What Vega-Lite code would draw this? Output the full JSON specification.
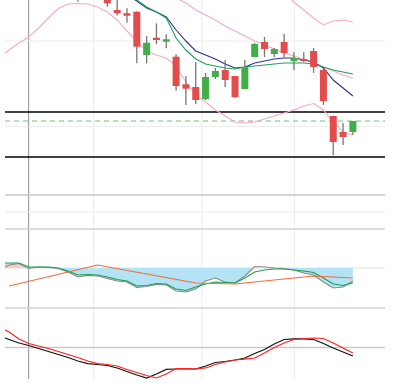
{
  "$schema": "https://vega.github.io/schema/vega-lite/v6.json",
  "width": 390,
  "height": 379,
  "padding": 0,
  "autosize": {"type": "none"},
  "background": "white",
  "config": {"view": {"stroke": null}},
  "datasets": {
    "candles": [
      {"t": 7, "open": 23.5, "high": 23.6, "low": 22.72, "close": 23.2},
      {"t": 10, "open": 23.1, "high": 23.2, "low": 22.23, "close": 22.57},
      {"t": 11, "open": 21.9, "high": 22.95, "low": 21.35, "close": 21.57},
      {"t": 12, "open": 21.57, "high": 22.07, "low": 20.63, "close": 21.33},
      {"t": 13, "open": 21.73, "high": 21.75, "low": 16.57, "close": 18.23},
      {"t": 14, "open": 17.4, "high": 19.3, "low": 16.57, "close": 18.63},
      {"t": 15, "open": 19.13, "high": 20.57, "low": 18.47, "close": 18.9},
      {"t": 16, "open": 18.73, "high": 19.47, "low": 18.07, "close": 18.97},
      {"t": 17, "open": 17.23, "high": 17.47, "low": 13.83, "close": 14.3},
      {"t": 18, "open": 14.47, "high": 15.3, "low": 12.4, "close": 14.03},
      {"t": 19, "open": 14.2, "high": 16.7, "low": 12.5, "close": 12.9},
      {"t": 20, "open": 13.0, "high": 15.6, "low": 12.9, "close": 15.2},
      {"t": 21, "open": 15.2, "high": 16.1, "low": 15.0, "close": 15.8},
      {"t": 22, "open": 15.9, "high": 16.9, "low": 14.2, "close": 14.9},
      {"t": 23, "open": 15.3, "high": 15.3, "low": 13.1, "close": 13.2},
      {"t": 24, "open": 14.0, "high": 16.9, "low": 14.0, "close": 16.2},
      {"t": 25, "open": 17.2, "high": 18.6, "low": 17.2, "close": 18.5},
      {"t": 26, "open": 18.7, "high": 19.2, "low": 17.2, "close": 18.0},
      {"t": 27, "open": 17.5, "high": 18.1, "low": 17.2, "close": 18.0},
      {"t": 28, "open": 18.7, "high": 19.5, "low": 17.2, "close": 17.6},
      {"t": 29, "open": 16.8, "high": 17.7, "low": 15.9, "close": 17.1},
      {"t": 30, "open": 17.0, "high": 17.7, "low": 16.7, "close": 16.8},
      {"t": 31, "open": 17.8, "high": 18.1, "low": 15.6, "close": 16.2},
      {"t": 32, "open": 15.9, "high": 16.0, "low": 12.4, "close": 12.8},
      {"t": 33, "open": 11.3, "high": 11.3, "low": 7.4, "close": 8.7},
      {"t": 34, "open": 9.7, "high": 10.6, "low": 8.4, "close": 9.2},
      {"t": 35, "open": 9.7, "high": 10.8, "low": 9.4, "close": 10.8}
    ],
    "main": [
      {"s": "lower", "t": -0.42, "v": 17.6}, {"s": "lower", "t": 0, "v": 17.9}, {"s": "lower", "t": 1, "v": 18.6},
      {"s": "lower", "t": 2, "v": 19.2}, {"s": "lower", "t": 3, "v": 20.1}, {"s": "lower", "t": 4, "v": 21.1},
      {"s": "lower", "t": 5, "v": 22.05}, {"s": "lower", "t": 6, "v": 22.5}, {"s": "lower", "t": 7, "v": 22.55},
      {"s": "lower", "t": 8, "v": 22.5}, {"s": "lower", "t": 9, "v": 22.2}, {"s": "lower", "t": 10, "v": 21.7},
      {"s": "lower", "t": 11, "v": 20.9}, {"s": "lower", "t": 12, "v": 19.8}, {"s": "lower", "t": 13, "v": 18.8},
      {"s": "lower", "t": 14, "v": 17.8}, {"s": "lower", "t": 15, "v": 17.4}, {"s": "lower", "t": 16, "v": 17.1},
      {"s": "lower", "t": 17, "v": 16.3}, {"s": "lower", "t": 18, "v": 14.7}, {"s": "lower", "t": 19, "v": 13.4},
      {"s": "lower", "t": 20, "v": 12.7}, {"s": "lower", "t": 21, "v": 11.9}, {"s": "lower", "t": 22, "v": 11.3},
      {"s": "lower", "t": 23, "v": 10.7}, {"s": "lower", "t": 24, "v": 10.6}, {"s": "lower", "t": 25, "v": 10.7},
      {"s": "lower", "t": 26, "v": 11.0}, {"s": "lower", "t": 27, "v": 11.3}, {"s": "lower", "t": 28, "v": 11.6},
      {"s": "lower", "t": 29, "v": 11.9}, {"s": "lower", "t": 30, "v": 12.3}, {"s": "lower", "t": 31, "v": 12.55},
      {"s": "lower", "t": 32, "v": 11.9}, {"s": "lower", "t": 33, "v": 10.7}, {"s": "lower", "t": 34, "v": 9.7},
      {"s": "lower", "t": 35, "v": 9.4},
      {"s": "middle", "t": 16, "v": 23.7}, {"s": "middle", "t": 17, "v": 23.1}, {"s": "middle", "t": 18, "v": 22.6},
      {"s": "middle", "t": 19, "v": 21.9}, {"s": "middle", "t": 20, "v": 21.4}, {"s": "middle", "t": 21, "v": 20.9},
      {"s": "middle", "t": 22, "v": 20.3}, {"s": "middle", "t": 23, "v": 19.8}, {"s": "middle", "t": 24, "v": 19.3},
      {"s": "middle", "t": 25, "v": 18.8}, {"s": "middle", "t": 26, "v": 18.4}, {"s": "middle", "t": 27, "v": 18.0},
      {"s": "middle", "t": 28, "v": 17.6}, {"s": "middle", "t": 29, "v": 17.3}, {"s": "middle", "t": 30, "v": 17.0},
      {"s": "middle", "t": 31, "v": 16.6}, {"s": "middle", "t": 32, "v": 16.2}, {"s": "middle", "t": 33, "v": 15.8},
      {"s": "middle", "t": 34, "v": 15.4}, {"s": "middle", "t": 35, "v": 15.1},
      {"s": "upper", "t": 28, "v": 23.5}, {"s": "upper", "t": 29, "v": 22.7}, {"s": "upper", "t": 30, "v": 21.9},
      {"s": "upper", "t": 31, "v": 21.1}, {"s": "upper", "t": 32, "v": 20.4}, {"s": "upper", "t": 33, "v": 20.8},
      {"s": "upper", "t": 34, "v": 20.9}, {"s": "upper", "t": 35, "v": 20.7},
      {"s": "fast", "t": 12, "v": 23.4}, {"s": "fast", "t": 13, "v": 22.8}, {"s": "fast", "t": 14, "v": 22.1},
      {"s": "fast", "t": 15, "v": 21.7}, {"s": "fast", "t": 16, "v": 21.2}, {"s": "fast", "t": 17, "v": 19.9},
      {"s": "fast", "t": 18, "v": 18.8}, {"s": "fast", "t": 19, "v": 17.8}, {"s": "fast", "t": 20, "v": 17.4},
      {"s": "fast", "t": 21, "v": 17.0}, {"s": "fast", "t": 22, "v": 16.5}, {"s": "fast", "t": 23, "v": 16.1},
      {"s": "fast", "t": 24, "v": 16.2}, {"s": "fast", "t": 25, "v": 16.6}, {"s": "fast", "t": 26, "v": 16.8},
      {"s": "fast", "t": 27, "v": 17.0}, {"s": "fast", "t": 28, "v": 17.1}, {"s": "fast", "t": 29, "v": 17.1},
      {"s": "fast", "t": 30, "v": 16.9}, {"s": "fast", "t": 31, "v": 16.7}, {"s": "fast", "t": 32, "v": 16.1},
      {"s": "fast", "t": 33, "v": 14.9}, {"s": "fast", "t": 34, "v": 14.1}, {"s": "fast", "t": 35, "v": 13.3},
      {"s": "slow", "t": 12, "v": 23.5}, {"s": "slow", "t": 13, "v": 22.9}, {"s": "slow", "t": 14, "v": 22.2},
      {"s": "slow", "t": 15, "v": 21.7}, {"s": "slow", "t": 16, "v": 21.1}, {"s": "slow", "t": 17, "v": 19.1},
      {"s": "slow", "t": 18, "v": 17.9}, {"s": "slow", "t": 19, "v": 17.0}, {"s": "slow", "t": 20, "v": 16.5},
      {"s": "slow", "t": 21, "v": 16.3}, {"s": "slow", "t": 22, "v": 16.1}, {"s": "slow", "t": 23, "v": 16.0},
      {"s": "slow", "t": 24, "v": 16.2}, {"s": "slow", "t": 25, "v": 16.3}, {"s": "slow", "t": 26, "v": 16.4},
      {"s": "slow", "t": 27, "v": 16.5}, {"s": "slow", "t": 28, "v": 16.6}, {"s": "slow", "t": 29, "v": 16.6},
      {"s": "slow", "t": 30, "v": 16.6}, {"s": "slow", "t": 31, "v": 16.5}, {"s": "slow", "t": 32, "v": 16.2},
      {"s": "slow", "t": 33, "v": 15.9}, {"s": "slow", "t": 34, "v": 15.7}, {"s": "slow", "t": 35, "v": 15.5}
    ],
    "levels": [
      {"s": "res", "v": 11.7},
      {"s": "res", "v": 7.2},
      {"s": "level", "v": 3.4},
      {"s": "price", "v": 10.8}
    ],
    "grid1": [
      {"s": "sep", "v": 0},
      {"s": "grid", "v": 1.7},
      {"s": "grid", "v": 10.25},
      {"s": "grid", "v": 18.8}
    ],
    "grid2": [
      {"s": "sep", "v": -4.0},
      {"s": "zero", "v": 0}
    ],
    "grid3": [
      {"s": "sep", "v": 0},
      {"s": "mid", "v": 50}
    ],
    "vlines": [{"s": "vline", "t": 1.99}, {"s": "vgrid", "t": 8.61}, {"s": "vgrid", "t": 19.62}, {"s": "vgrid", "t": 29.05}],
    "hist": [
      {"s": "pos", "t": -0.42, "v": 0.5}, {"s": "pos", "t": 0, "v": 0.5}, {"s": "pos", "t": 1, "v": 0.5},
      {"s": "pos", "t": 2, "v": 0.05}, {"s": "pos", "t": 2.2, "v": 0},
      {"s": "neg", "t": 2.2, "v": 0}, {"s": "neg", "t": 3, "v": 0}, {"s": "neg", "t": 4, "v": 0},
      {"s": "neg", "t": 5, "v": -0.05}, {"s": "neg", "t": 6, "v": -0.4}, {"s": "neg", "t": 7, "v": -0.9},
      {"s": "neg", "t": 8, "v": -0.75}, {"s": "neg", "t": 9, "v": -0.8}, {"s": "neg", "t": 10, "v": -1.05},
      {"s": "neg", "t": 11, "v": -1.3}, {"s": "neg", "t": 12, "v": -1.4}, {"s": "neg", "t": 13, "v": -1.95},
      {"s": "neg", "t": 14, "v": -1.85}, {"s": "neg", "t": 15, "v": -1.65}, {"s": "neg", "t": 16, "v": -1.7},
      {"s": "neg", "t": 17, "v": -2.3}, {"s": "neg", "t": 18, "v": -2.4}, {"s": "neg", "t": 19, "v": -2.1},
      {"s": "neg", "t": 20, "v": -1.3}, {"s": "neg", "t": 21, "v": -1.0}, {"s": "neg", "t": 22, "v": -1.4},
      {"s": "neg", "t": 23, "v": -1.5}, {"s": "neg", "t": 24, "v": -0.8}, {"s": "neg", "t": 25, "v": 0},
      {"s": "neg", "t": 26, "v": 0}, {"s": "neg", "t": 27, "v": 0}, {"s": "neg", "t": 28, "v": -0.05},
      {"s": "neg", "t": 29, "v": -0.2}, {"s": "neg", "t": 30, "v": -0.5}, {"s": "neg", "t": 31, "v": -0.7},
      {"s": "neg", "t": 32, "v": -1.4}, {"s": "neg", "t": 33, "v": -2.0}, {"s": "neg", "t": 34, "v": -1.9},
      {"s": "neg", "t": 35, "v": -1.3}
    ],
    "macd": [
      {"s": "macd", "t": -0.42, "v": 0.1}, {"s": "macd", "t": 0, "v": 0.3}, {"s": "macd", "t": 1, "v": 0.45},
      {"s": "macd", "t": 2, "v": -0.05}, {"s": "macd", "t": 3, "v": 0.1}, {"s": "macd", "t": 4, "v": 0.05},
      {"s": "macd", "t": 5, "v": -0.05}, {"s": "macd", "t": 6, "v": -0.4}, {"s": "macd", "t": 7, "v": -0.9},
      {"s": "macd", "t": 8, "v": -0.75}, {"s": "macd", "t": 9, "v": -0.8}, {"s": "macd", "t": 10, "v": -1.05},
      {"s": "macd", "t": 11, "v": -1.3}, {"s": "macd", "t": 12, "v": -1.4}, {"s": "macd", "t": 13, "v": -1.95},
      {"s": "macd", "t": 14, "v": -1.85}, {"s": "macd", "t": 15, "v": -1.65}, {"s": "macd", "t": 16, "v": -1.7},
      {"s": "macd", "t": 17, "v": -2.3}, {"s": "macd", "t": 18, "v": -2.4}, {"s": "macd", "t": 19, "v": -2.1},
      {"s": "macd", "t": 20, "v": -1.3}, {"s": "macd", "t": 21, "v": -1.0}, {"s": "macd", "t": 22, "v": -1.4},
      {"s": "macd", "t": 23, "v": -1.5}, {"s": "macd", "t": 24, "v": -0.8}, {"s": "macd", "t": 25, "v": 0.15},
      {"s": "macd", "t": 26, "v": 0.1}, {"s": "macd", "t": 27, "v": 0.0}, {"s": "macd", "t": 28, "v": -0.05},
      {"s": "macd", "t": 29, "v": -0.2}, {"s": "macd", "t": 30, "v": -0.5}, {"s": "macd", "t": 31, "v": -0.7},
      {"s": "macd", "t": 32, "v": -1.4}, {"s": "macd", "t": 33, "v": -2.0}, {"s": "macd", "t": 34, "v": -1.9},
      {"s": "macd", "t": 35, "v": -1.3},
      {"s": "signal", "t": -0.42, "v": 0.5}, {"s": "signal", "t": 0, "v": 0.5}, {"s": "signal", "t": 1, "v": 0.5},
      {"s": "signal", "t": 2, "v": 0.1}, {"s": "signal", "t": 3, "v": 0.1}, {"s": "signal", "t": 4, "v": 0.1},
      {"s": "signal", "t": 5, "v": 0.0}, {"s": "signal", "t": 6, "v": -0.3}, {"s": "signal", "t": 7, "v": -0.7},
      {"s": "signal", "t": 8, "v": -0.65}, {"s": "signal", "t": 9, "v": -0.7}, {"s": "signal", "t": 10, "v": -0.9},
      {"s": "signal", "t": 11, "v": -1.15}, {"s": "signal", "t": 12, "v": -1.3}, {"s": "signal", "t": 13, "v": -1.8},
      {"s": "signal", "t": 14, "v": -1.75}, {"s": "signal", "t": 15, "v": -1.55}, {"s": "signal", "t": 16, "v": -1.6},
      {"s": "signal", "t": 17, "v": -2.1}, {"s": "signal", "t": 18, "v": -2.25}, {"s": "signal", "t": 19, "v": -1.9},
      {"s": "signal", "t": 20, "v": -1.6}, {"s": "signal", "t": 21, "v": -1.4}, {"s": "signal", "t": 22, "v": -1.45},
      {"s": "signal", "t": 23, "v": -1.5}, {"s": "signal", "t": 24, "v": -1.0}, {"s": "signal", "t": 25, "v": -0.4},
      {"s": "signal", "t": 26, "v": -0.2}, {"s": "signal", "t": 27, "v": -0.1}, {"s": "signal", "t": 28, "v": -0.1},
      {"s": "signal", "t": 29, "v": -0.2}, {"s": "signal", "t": 30, "v": -0.3}, {"s": "signal", "t": 31, "v": -0.45},
      {"s": "signal", "t": 32, "v": -1.0}, {"s": "signal", "t": 33, "v": -1.6}, {"s": "signal", "t": 34, "v": -1.75},
      {"s": "signal", "t": 35, "v": -1.5},
      {"s": "trend", "t": 0, "v": -1.8}, {"s": "trend", "t": 9, "v": 0.3}, {"s": "trend", "t": 19, "v": -1.5},
      {"s": "trend", "t": 23, "v": -1.6}, {"s": "trend", "t": 31, "v": -0.8}, {"s": "trend", "t": 35, "v": -1.0}
    ],
    "stoch": [
      {"s": "k", "t": -0.42, "v": 62.0}, {"s": "k", "t": 0, "v": 60.1}, {"s": "k", "t": 1, "v": 55.7},
      {"s": "k", "t": 2, "v": 52.5}, {"s": "k", "t": 3, "v": 48.7}, {"s": "k", "t": 4, "v": 44.9},
      {"s": "k", "t": 5, "v": 41.1}, {"s": "k", "t": 6, "v": 37.3}, {"s": "k", "t": 7, "v": 32.9},
      {"s": "k", "t": 8, "v": 29.7}, {"s": "k", "t": 9, "v": 28.5}, {"s": "k", "t": 10, "v": 27.2},
      {"s": "k", "t": 11, "v": 24.1}, {"s": "k", "t": 12, "v": 19.6}, {"s": "k", "t": 13, "v": 15.2},
      {"s": "k", "t": 14, "v": 11.4}, {"s": "k", "t": 15, "v": 16.5}, {"s": "k", "t": 16, "v": 22.2},
      {"s": "k", "t": 17, "v": 22.8}, {"s": "k", "t": 18, "v": 22.8}, {"s": "k", "t": 19, "v": 22.8},
      {"s": "k", "t": 20, "v": 26.6}, {"s": "k", "t": 21, "v": 31.0}, {"s": "k", "t": 22, "v": 32.3},
      {"s": "k", "t": 23, "v": 34.2}, {"s": "k", "t": 24, "v": 36.7}, {"s": "k", "t": 25, "v": 42.4},
      {"s": "k", "t": 26, "v": 47.5}, {"s": "k", "t": 27, "v": 54.4}, {"s": "k", "t": 28, "v": 60.1},
      {"s": "k", "t": 29, "v": 60.8}, {"s": "k", "t": 30, "v": 60.8}, {"s": "k", "t": 31, "v": 60.1},
      {"s": "k", "t": 32, "v": 55.1}, {"s": "k", "t": 33, "v": 49.4}, {"s": "k", "t": 34, "v": 44.3},
      {"s": "k", "t": 35, "v": 39.2},
      {"s": "d", "t": -0.42, "v": 72.2}, {"s": "d", "t": 0, "v": 69.6}, {"s": "d", "t": 1, "v": 60.8},
      {"s": "d", "t": 2, "v": 55.1}, {"s": "d", "t": 3, "v": 51.9}, {"s": "d", "t": 4, "v": 48.7},
      {"s": "d", "t": 5, "v": 44.9}, {"s": "d", "t": 6, "v": 41.1}, {"s": "d", "t": 7, "v": 37.3},
      {"s": "d", "t": 8, "v": 32.9}, {"s": "d", "t": 9, "v": 29.7}, {"s": "d", "t": 10, "v": 28.5},
      {"s": "d", "t": 11, "v": 26.6}, {"s": "d", "t": 12, "v": 22.2}, {"s": "d", "t": 13, "v": 18.4},
      {"s": "d", "t": 14, "v": 14.6}, {"s": "d", "t": 15, "v": 11.4}, {"s": "d", "t": 16, "v": 16.5},
      {"s": "d", "t": 17, "v": 23.4}, {"s": "d", "t": 18, "v": 23.4}, {"s": "d", "t": 19, "v": 22.8},
      {"s": "d", "t": 20, "v": 24.1}, {"s": "d", "t": 21, "v": 28.5}, {"s": "d", "t": 22, "v": 31.6},
      {"s": "d", "t": 23, "v": 34.2}, {"s": "d", "t": 24, "v": 35.4}, {"s": "d", "t": 25, "v": 36.7},
      {"s": "d", "t": 26, "v": 43.0}, {"s": "d", "t": 27, "v": 50.0}, {"s": "d", "t": 28, "v": 55.7},
      {"s": "d", "t": 29, "v": 60.1}, {"s": "d", "t": 30, "v": 61.4}, {"s": "d", "t": 31, "v": 62.0},
      {"s": "d", "t": 32, "v": 61.4}, {"s": "d", "t": 33, "v": 55.7}, {"s": "d", "t": 34, "v": 49.4},
      {"s": "d", "t": 35, "v": 43.0}
    ]
  },
  "resolve": {"scale": {"y": "independent"}},
  "layer": [
    {
      "data": {"name": "vlines"},
      "mark": {"type": "rule", "strokeWidth": 1},
      "encoding": {
        "x": {"field": "t", "type": "quantitative", "axis": null, "scale": {"domain": [-0.42, 38.27], "nice": false, "zero": false}},
        "y": {"datum": 0, "type": "quantitative", "axis": null, "scale": {"domain": [0, 389], "range": [389, 0], "nice": false, "zero": false}},
        "y2": {"datum": 389},
        "color": {"field": "s", "type": "nominal", "legend": null, "scale": {"domain": ["upper","middle","lower","fast","slow","res","level","price","macd","signal","trend","k","d","pos","neg","grid","sep","zero","mid","vline","vgrid"], "range": ["#f5a9c8","#f5a9c8","#f5a9c8","#2e3192","#1aa35c","#000000","#c6c6c6","#74c474","#8a8a8a","#1e9e4a","#f26b3a","#111111","#ff2020","#f6cdcd","#b3e3f5","#ececec","#d2d2d2","#e2e2e2","#c9c9c9","#909090","#ececec"]}}
      }
    },
    {
      "layer": [
        {
          "data": {"name": "grid1"},
          "mark": {"type": "rule"},
          "encoding": {
            "x": {"datum": -0.42, "type": "quantitative", "axis": null, "scale": {"domain": [-0.42, 38.27], "nice": false, "zero": false}},
            "x2": {"datum": 38.27},
            "y": {"field": "v", "type": "quantitative", "axis": null, "scale": {"domain": [0, 22.9], "range": [229, 0], "nice": false, "zero": false}},
            "strokeWidth": {"condition": {"test": "datum.s == 'sep'", "value": 1.5}, "value": 1},
            "color": {"field": "s", "type": "nominal", "legend": null, "scale": {"domain": ["upper","middle","lower","fast","slow","res","level","price","macd","signal","trend","k","d","pos","neg","grid","sep","zero","mid","vline","vgrid"], "range": ["#f5a9c8","#f5a9c8","#f5a9c8","#2e3192","#1aa35c","#000000","#c6c6c6","#74c474","#8a8a8a","#1e9e4a","#f26b3a","#111111","#ff2020","#f6cdcd","#b3e3f5","#ececec","#d2d2d2","#e2e2e2","#c9c9c9","#909090","#ececec"]}}
          }
        },
        {
          "data": {"name": "levels"},
          "transform": [{"filter": "datum.s != 'price'"}],
          "mark": {"type": "rule", "strokeWidth": 1.5},
          "encoding": {
            "x": {"datum": -0.42, "type": "quantitative", "axis": null, "scale": {"domain": [-0.42, 38.27], "nice": false, "zero": false}},
            "x2": {"datum": 38.27},
            "y": {"field": "v", "type": "quantitative", "axis": null, "scale": {"domain": [0, 22.9], "range": [229, 0], "nice": false, "zero": false}},
            "color": {"field": "s", "type": "nominal", "legend": null, "scale": {"domain": ["upper","middle","lower","fast","slow","res","level","price","macd","signal","trend","k","d","pos","neg","grid","sep","zero","mid","vline","vgrid"], "range": ["#f5a9c8","#f5a9c8","#f5a9c8","#2e3192","#1aa35c","#000000","#c6c6c6","#74c474","#8a8a8a","#1e9e4a","#f26b3a","#111111","#ff2020","#f6cdcd","#b3e3f5","#ececec","#d2d2d2","#e2e2e2","#c9c9c9","#909090","#ececec"]}}
          }
        },
        {
          "data": {"name": "levels"},
          "transform": [{"filter": "datum.s == 'price'"}],
          "mark": {"type": "rule", "strokeWidth": 1.2, "strokeDash": [5, 4]},
          "encoding": {
            "x": {"datum": -0.42, "type": "quantitative", "axis": null, "scale": {"domain": [-0.42, 38.27], "nice": false, "zero": false}},
            "x2": {"datum": 38.27},
            "y": {"field": "v", "type": "quantitative", "axis": null, "scale": {"domain": [0, 22.9], "range": [229, 0], "nice": false, "zero": false}},
            "color": {"field": "s", "type": "nominal", "legend": null, "scale": {"domain": ["upper","middle","lower","fast","slow","res","level","price","macd","signal","trend","k","d","pos","neg","grid","sep","zero","mid","vline","vgrid"], "range": ["#f5a9c8","#f5a9c8","#f5a9c8","#2e3192","#1aa35c","#000000","#c6c6c6","#74c474","#8a8a8a","#1e9e4a","#f26b3a","#111111","#ff2020","#f6cdcd","#b3e3f5","#ececec","#d2d2d2","#e2e2e2","#c9c9c9","#909090","#ececec"]}}
          }
        },
        {
          "data": {"name": "main"},
          "mark": {"type": "line", "strokeWidth": 1.1},
          "encoding": {
            "x": {"field": "t", "type": "quantitative", "axis": null, "scale": {"domain": [-0.42, 38.27], "nice": false, "zero": false}},
            "y": {"field": "v", "type": "quantitative", "axis": null, "scale": {"domain": [0, 22.9], "range": [229, 0], "nice": false, "zero": false}},
            "color": {"field": "s", "type": "nominal", "legend": null, "scale": {"domain": ["upper","middle","lower","fast","slow","res","level","price","macd","signal","trend","k","d","pos","neg","grid","sep","zero","mid","vline","vgrid"], "range": ["#f5a9c8","#f5a9c8","#f5a9c8","#2e3192","#1aa35c","#000000","#c6c6c6","#74c474","#8a8a8a","#1e9e4a","#f26b3a","#111111","#ff2020","#f6cdcd","#b3e3f5","#ececec","#d2d2d2","#e2e2e2","#c9c9c9","#909090","#ececec"]}}
          }
        },
        {
          "data": {"name": "candles"},
          "mark": {"type": "rule", "color": "#777777", "strokeWidth": 1.3},
          "encoding": {
            "x": {"field": "t", "type": "quantitative", "axis": null, "scale": {"domain": [-0.42, 38.27], "nice": false, "zero": false}},
            "y": {"field": "low", "type": "quantitative", "axis": null, "scale": {"domain": [0, 22.9], "range": [229, 0], "nice": false, "zero": false}},
            "y2": {"field": "high"}
          }
        },
        {
          "data": {"name": "candles"},
          "mark": {"type": "bar", "size": 7},
          "encoding": {
            "x": {"field": "t", "type": "quantitative", "axis": null, "scale": {"domain": [-0.42, 38.27], "nice": false, "zero": false}},
            "y": {"field": "open", "type": "quantitative", "axis": null, "scale": {"domain": [0, 22.9], "range": [229, 0], "nice": false, "zero": false}},
            "y2": {"field": "close"},
            "color": {"condition": {"test": "datum.close >= datum.open", "value": "#43ad49"}, "value": "#e44b4b"}
          }
        }
      ]
    },
    {
      "layer": [
        {
          "data": {"name": "grid2"},
          "mark": {"type": "rule"},
          "encoding": {
            "x": {"datum": -0.42, "type": "quantitative", "axis": null, "scale": {"domain": [-0.42, 38.27], "nice": false, "zero": false}},
            "x2": {"datum": 38.27},
            "y": {"field": "v", "type": "quantitative", "axis": null, "scale": {"domain": [-4.0, 3.9], "range": [308, 229], "nice": false, "zero": false}},
            "strokeWidth": {"condition": {"test": "datum.s == 'sep'", "value": 1.5}, "value": 1},
            "color": {"field": "s", "type": "nominal", "legend": null, "scale": {"domain": ["upper","middle","lower","fast","slow","res","level","price","macd","signal","trend","k","d","pos","neg","grid","sep","zero","mid","vline","vgrid"], "range": ["#f5a9c8","#f5a9c8","#f5a9c8","#2e3192","#1aa35c","#000000","#c6c6c6","#74c474","#8a8a8a","#1e9e4a","#f26b3a","#111111","#ff2020","#f6cdcd","#b3e3f5","#ececec","#d2d2d2","#e2e2e2","#c9c9c9","#909090","#ececec"]}}
          }
        },
        {
          "data": {"name": "hist"},
          "mark": {"type": "area", "opacity": 1},
          "encoding": {
            "x": {"field": "t", "type": "quantitative", "axis": null, "scale": {"domain": [-0.42, 38.27], "nice": false, "zero": false}},
            "y": {"field": "v", "type": "quantitative", "axis": null, "scale": {"domain": [-4.0, 3.9], "range": [308, 229], "nice": false, "zero": false}},
            "y2": {"datum": 0},
            "color": {"field": "s", "type": "nominal", "legend": null, "scale": {"domain": ["upper","middle","lower","fast","slow","res","level","price","macd","signal","trend","k","d","pos","neg","grid","sep","zero","mid","vline","vgrid"], "range": ["#f5a9c8","#f5a9c8","#f5a9c8","#2e3192","#1aa35c","#000000","#c6c6c6","#74c474","#8a8a8a","#1e9e4a","#f26b3a","#111111","#ff2020","#f6cdcd","#b3e3f5","#ececec","#d2d2d2","#e2e2e2","#c9c9c9","#909090","#ececec"]}}
          }
        },
        {
          "data": {"name": "macd"},
          "mark": {"type": "line", "strokeWidth": 1.1},
          "encoding": {
            "x": {"field": "t", "type": "quantitative", "axis": null, "scale": {"domain": [-0.42, 38.27], "nice": false, "zero": false}},
            "y": {"field": "v", "type": "quantitative", "axis": null, "scale": {"domain": [-4.0, 3.9], "range": [308, 229], "nice": false, "zero": false}},
            "color": {"field": "s", "type": "nominal", "legend": null, "scale": {"domain": ["upper","middle","lower","fast","slow","res","level","price","macd","signal","trend","k","d","pos","neg","grid","sep","zero","mid","vline","vgrid"], "range": ["#f5a9c8","#f5a9c8","#f5a9c8","#2e3192","#1aa35c","#000000","#c6c6c6","#74c474","#8a8a8a","#1e9e4a","#f26b3a","#111111","#ff2020","#f6cdcd","#b3e3f5","#ececec","#d2d2d2","#e2e2e2","#c9c9c9","#909090","#ececec"]}}
          }
        }
      ]
    },
    {
      "layer": [
        {
          "data": {"name": "grid3"},
          "mark": {"type": "rule", "strokeWidth": 1.5},
          "encoding": {
            "x": {"datum": -0.42, "type": "quantitative", "axis": null, "scale": {"domain": [-0.42, 38.27], "nice": false, "zero": false}},
            "x2": {"datum": 38.27},
            "y": {"field": "v", "type": "quantitative", "axis": null, "scale": {"domain": [0, 100], "range": [387, 308], "nice": false, "zero": false}},
            "color": {"field": "s", "type": "nominal", "legend": null, "scale": {"domain": ["upper","middle","lower","fast","slow","res","level","price","macd","signal","trend","k","d","pos","neg","grid","sep","zero","mid","vline","vgrid"], "range": ["#f5a9c8","#f5a9c8","#f5a9c8","#2e3192","#1aa35c","#000000","#c6c6c6","#74c474","#8a8a8a","#1e9e4a","#f26b3a","#111111","#ff2020","#f6cdcd","#b3e3f5","#ececec","#d2d2d2","#e2e2e2","#c9c9c9","#909090","#ececec"]}}
          }
        },
        {
          "data": {"name": "stoch"},
          "mark": {"type": "line", "strokeWidth": 1.2},
          "encoding": {
            "x": {"field": "t", "type": "quantitative", "axis": null, "scale": {"domain": [-0.42, 38.27], "nice": false, "zero": false}},
            "y": {"field": "v", "type": "quantitative", "axis": null, "scale": {"domain": [0, 100], "range": [387, 308], "nice": false, "zero": false}},
            "color": {"field": "s", "type": "nominal", "legend": null, "scale": {"domain": ["upper","middle","lower","fast","slow","res","level","price","macd","signal","trend","k","d","pos","neg","grid","sep","zero","mid","vline","vgrid"], "range": ["#f5a9c8","#f5a9c8","#f5a9c8","#2e3192","#1aa35c","#000000","#c6c6c6","#74c474","#8a8a8a","#1e9e4a","#f26b3a","#111111","#ff2020","#f6cdcd","#b3e3f5","#ececec","#d2d2d2","#e2e2e2","#c9c9c9","#909090","#ececec"]}}
          }
        }
      ]
    }
  ]
}
